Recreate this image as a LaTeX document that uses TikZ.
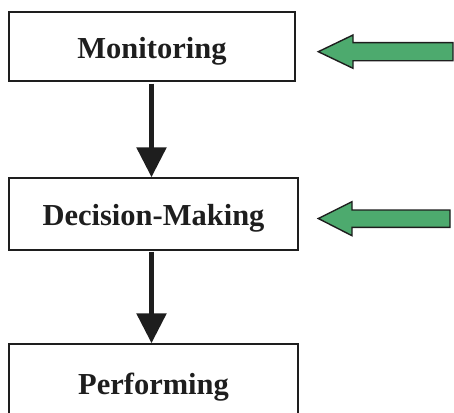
\documentclass[tikz,border=0pt]{standalone}
\usepackage{fontspec}
\setmainfont{Liberation Serif}
\usetikzlibrary{arrows.meta}
\definecolor{arrgreen}{RGB}{77,170,110}
\definecolor{inkdark}{RGB}{30,30,30}
\tikzset{
  stagebox/.style={draw=inkdark, line width=1.4pt, rectangle, inner sep=0pt,
    text height=23pt, text depth=0pt,
    font=\fontsize{30.5}{36}\selectfont\bfseries, text=inkdark},
  flowarrow/.style={draw=inkdark, line width=5.5pt,
    -{Triangle[width=29pt,length=30pt]}},
  blockarrow/.style={draw=inkdark, line width=1.4pt, fill=arrgreen, line join=miter}
}
\begin{document}
\begin{tikzpicture}[x=1pt,y=-1pt]
\useasboundingbox (0,0) rectangle (454,412);
\clip (0,0) rectangle (454,412);
\node[stagebox, minimum width=286pt, minimum height=69pt] (m) at (152,46.5) {Monitoring};
\node[stagebox, minimum width=289pt, minimum height=72pt] (d) at (153.5,214) {Decision-Making};
\node[stagebox, minimum width=289pt, minimum height=77pt] (p) at (153.5,382.5) {Performing};
\draw[flowarrow, shorten <=2pt] (m.south -| 151.5,0) -- (d.north -| 151.5,0);
\draw[flowarrow, shorten <=1pt] (d.south -| 151.5,0) -- (p.north -| 151.5,0);
% green block arrows pointing at the boxes
\coordinate (t1) at (318.3,51.7);
\coordinate (t2) at (318.3,218.5);
\draw[blockarrow] (t1) -- (353,35) -- (353,42.7) -- (453,42.7) -- (453,60.7) -- (353,60.7) -- (353,68.3) -- cycle;
\draw[blockarrow] (t2) -- (352,201.7) -- (352,210) -- (450,210) -- (450,227.3) -- (352,227.3) -- (352,235.7) -- cycle;
\end{tikzpicture}
\end{document}
